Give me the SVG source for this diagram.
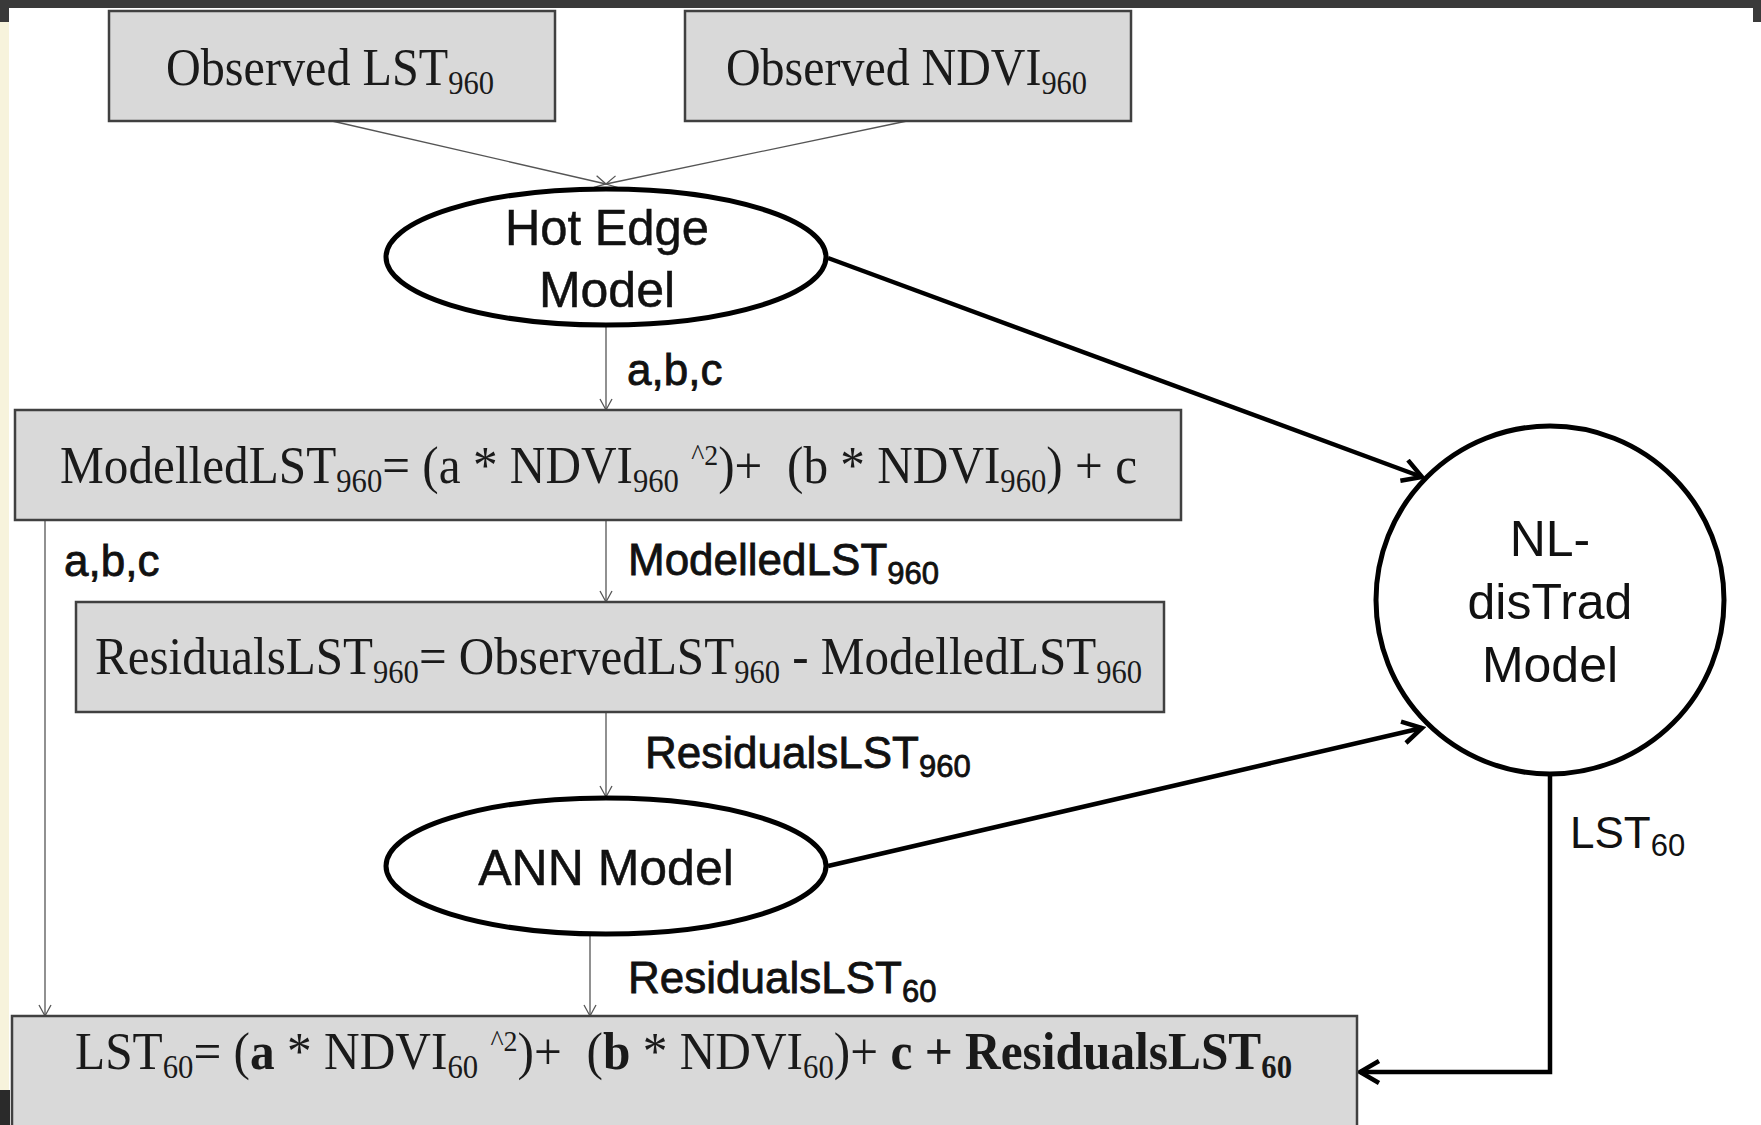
<svg xmlns="http://www.w3.org/2000/svg" width="1761" height="1125" viewBox="0 0 1761 1125">
<defs>
<style>
.box{fill:#d9d9d9;stroke:#404040;stroke-width:2.5}
.ell{fill:#ffffff;stroke:#000000;stroke-width:5}
.thin{fill:none;stroke:#555555;stroke-width:1.3}
.thick{fill:none;stroke:#000000;stroke-width:4.5}
.f{font-family:"Liberation Serif","Times New Roman",serif;fill:#1a1a1a;white-space:pre}
.s{font-family:"Liberation Sans",Arial,sans-serif;fill:#111111;white-space:pre}
.lb{font-family:"Liberation Sans",Arial,sans-serif;fill:#111111;stroke:#111111;stroke-width:0.8;white-space:pre}
.b{font-weight:bold}
</style>
<marker id="ah" markerUnits="userSpaceOnUse" markerWidth="14" markerHeight="14" refX="12" refY="7" orient="auto">
<path d="M1,1 L12,7 L1,13" fill="none" stroke="#555555" stroke-width="1.3"/>
</marker>
<marker id="ahk" markerUnits="userSpaceOnUse" markerWidth="26" markerHeight="26" refX="22" refY="13" orient="auto">
<path d="M3,2 L22,13 L3,24" fill="none" stroke="#000000" stroke-width="4.5"/>
</marker>
</defs>
<rect width="1761" height="1125" fill="#ffffff"/>
<rect x="0" y="0" width="1761" height="8" fill="#3a3a3a"/>
<rect x="0" y="0" width="9" height="22" fill="#3a3a3a"/>
<rect x="0" y="22" width="9" height="1068" fill="#f7f3dc"/>
<rect x="0" y="1090" width="10" height="35" fill="#2a2a2a"/>
<rect x="1753" y="0" width="8" height="22" fill="#3a3a3a"/>

<g id="connectors">
<line class="thin" x1="332" y1="121" x2="606" y2="184" marker-end="url(#ah)"/>
<line class="thin" x1="907" y1="121" x2="606" y2="184" marker-end="url(#ah)"/>
<line class="thin" x1="606" y1="326" x2="606" y2="410" marker-end="url(#ah)"/>
<line class="thin" x1="606" y1="520" x2="606" y2="602" marker-end="url(#ah)"/>
<line class="thin" x1="606" y1="712" x2="606" y2="797" marker-end="url(#ah)"/>
<line class="thin" x1="590" y1="934" x2="590" y2="1016" marker-end="url(#ah)"/>
<line class="thin" x1="45" y1="520" x2="45" y2="1016" marker-end="url(#ah)"/>
<line class="thick" x1="828" y1="258" x2="1422" y2="477" marker-end="url(#ahk)"/>
<line class="thick" x1="828" y1="866" x2="1422" y2="728" marker-end="url(#ahk)"/>
<path class="thick" d="M1550,775 V1072 H1360" marker-end="url(#ahk)"/>
<text class="lb" x="627" y="385" font-size="44">a,b,c</text>
<text class="lb" x="64" y="576" font-size="44">a,b,c</text>
<text class="lb" x="628" y="575" font-size="44">ModelledLST<tspan font-size="31" dy="9">960</tspan></text>
<text class="lb" x="645" y="768" font-size="44">ResidualsLST<tspan font-size="31" dy="9">960</tspan></text>
<text class="lb" x="628" y="993" font-size="44">ResidualsLST<tspan font-size="31" dy="9">60</tspan></text>
<text class="s" x="1570" y="848" font-size="44">LST<tspan font-size="31" dy="8">60</tspan></text>
</g>

<g id="obs-lst">
<rect class="box" x="109" y="11" width="446" height="110"/>
<text class="f" x="166" y="85" font-size="52" textLength="328" lengthAdjust="spacingAndGlyphs">Observed LST<tspan font-size="33" dy="9">960</tspan></text>
</g>
<g id="obs-ndvi">
<rect class="box" x="685" y="11" width="446" height="110"/>
<text class="f" x="726" y="85" font-size="52" textLength="361" lengthAdjust="spacingAndGlyphs">Observed NDVI<tspan font-size="33" dy="9">960</tspan></text>
</g>
<g id="hot-edge">
<ellipse class="ell" cx="606" cy="257" rx="220" ry="68"/>
<text class="s" x="607" y="245" font-size="50" text-anchor="middle" stroke="#111" stroke-width="0.5" textLength="204" lengthAdjust="spacingAndGlyphs">Hot Edge</text>
<text class="s" x="607" y="307" font-size="50" text-anchor="middle" stroke="#111" stroke-width="0.5">Model</text>
</g>
<g id="modelled">
<rect class="box" x="15" y="410" width="1166" height="110"/>
<text class="f" x="60" y="483" font-size="53" textLength="1077" lengthAdjust="spacingAndGlyphs">ModelledLST<tspan font-size="33" dy="9">960</tspan><tspan dy="-9">= (a * NDVI</tspan><tspan font-size="33" dy="9">960</tspan><tspan dy="-9"> </tspan><tspan font-size="30" dy="-18">^2</tspan><tspan dy="18">)+  (b * NDVI</tspan><tspan font-size="33" dy="9">960</tspan><tspan dy="-9">) + c</tspan></text>
</g>
<g id="residuals">
<rect class="box" x="76" y="602" width="1088" height="110"/>
<text class="f" x="95" y="674" font-size="53" textLength="1047" lengthAdjust="spacingAndGlyphs">ResidualsLST<tspan font-size="33" dy="9">960</tspan><tspan dy="-9">= ObservedLST</tspan><tspan font-size="33" dy="9">960</tspan><tspan dy="-9"> - ModelledLST</tspan><tspan font-size="33" dy="9">960</tspan></text>
</g>
<g id="ann">
<ellipse class="ell" cx="606" cy="866" rx="220" ry="68"/>
<text class="s" x="606" y="885" font-size="50" text-anchor="middle" stroke="#111" stroke-width="0.5">ANN Model</text>
</g>
<g id="nl-distrad">
<circle class="ell" cx="1550" cy="600" r="174"/>
<text class="s" x="1550" y="556" font-size="50" text-anchor="middle">NL-</text>
<text class="s" x="1550" y="619" font-size="50" text-anchor="middle">disTrad</text>
<text class="s" x="1550" y="682" font-size="50" text-anchor="middle">Model</text>
</g>
<g id="final">
<rect class="box" x="12" y="1016" width="1345" height="120"/>
<text class="f" x="75" y="1069" font-size="53" textLength="1217" lengthAdjust="spacingAndGlyphs">LST<tspan font-size="33" dy="9">60</tspan><tspan dy="-9">= (</tspan><tspan class="b">a</tspan> * NDVI<tspan font-size="33" dy="9">60</tspan><tspan dy="-9"> </tspan><tspan font-size="30" dy="-18">^2</tspan><tspan dy="18">)+  (</tspan><tspan class="b">b</tspan> * NDVI<tspan font-size="33" dy="9">60</tspan><tspan dy="-9">)+ </tspan><tspan class="b">c + ResidualsLST</tspan><tspan class="b" font-size="33" dy="9">60</tspan></text>
</g>
</svg>
